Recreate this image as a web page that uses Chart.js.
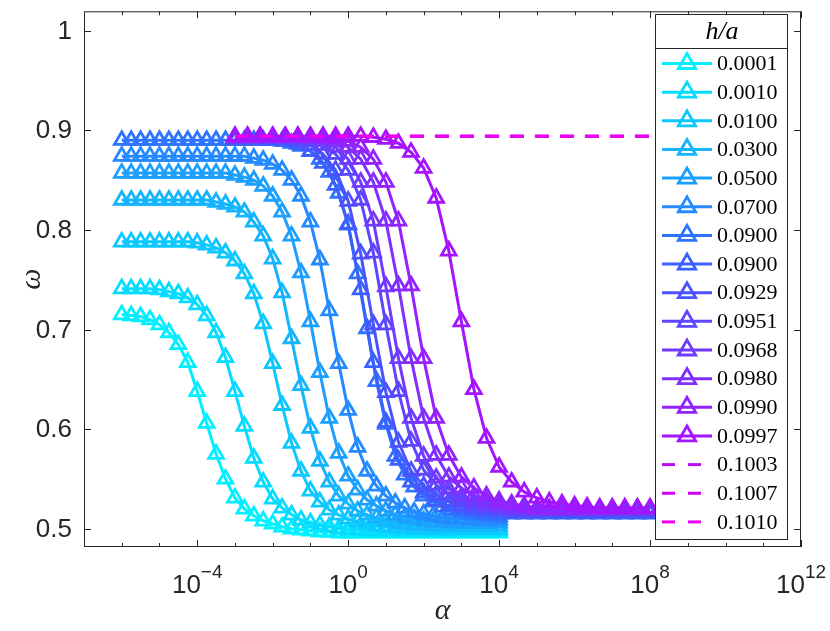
<!DOCTYPE html>
<html>
<head>
<meta charset="utf-8">
<script src="https://cdn.jsdelivr.net/npm/chart.js@4.4.1/dist/chart.umd.min.js"></script>
<style>
  html, body { margin: 0; padding: 0; background: #fff; }
  #wrap { width: 830px; height: 631px; position: relative; }
</style>
</head>
<body>
<div id="wrap"><canvas id="chart" width="830" height="631"></canvas></div>
<script>
// alpha grids
const alphaLow = [
  1e-6, 1.78e-6, 3.16e-6, 5.62e-6,
  1e-5, 1.78e-5, 3.16e-5, 5.62e-5,
  1e-4, 1.78e-4, 3.16e-4, 5.62e-4,
  1e-3, 1.78e-3, 3.16e-3, 5.62e-3,
  1e-2, 1.78e-2, 3.16e-2, 5.62e-2,
  0.1, 0.178, 0.316, 0.562,
  1, 1.78, 3.16, 5.62,
  10, 17.8, 31.6, 56.2,
  100, 178, 316, 562,
  1000, 1780, 3160, 5620,
  10000
];
const alphaHigh = [
  1e-3, 2.15e-3, 4.64e-3,
  1e-2, 2.15e-2, 4.64e-2,
  0.1, 0.215, 0.464,
  1, 2.15, 4.64,
  10, 21.5, 46.4,
  100, 215, 464,
  1e3, 2.15e3, 4.64e3,
  1e4, 2.15e4, 4.64e4,
  1e5, 2.15e5, 4.64e5,
  1e6, 2.15e6, 4.64e6,
  1e7, 2.15e7, 4.64e7,
  1e8
];
const alphaDash = [1e-3, 1e8];

// omega values, one array per h/a
const w0001 = [
  0.715, 0.714, 0.713, 0.710, 0.705, 0.697, 0.685, 0.667, 0.638, 0.606,
  0.575, 0.550, 0.531, 0.520, 0.513, 0.508, 0.505, 0.502, 0.500, 0.499,
  0.498, 0.497, 0.497, 0.496, 0.496, 0.496, 0.496, 0.496, 0.496, 0.496,
  0.496, 0.496, 0.496, 0.496, 0.496, 0.496, 0.496, 0.496, 0.496, 0.496,
  0.496
];
const w0010 = [
  0.741, 0.741, 0.741, 0.741, 0.740, 0.738, 0.736, 0.732, 0.725, 0.714,
  0.697, 0.672, 0.638, 0.603, 0.571, 0.547, 0.530, 0.521, 0.514, 0.509,
  0.506, 0.504, 0.502, 0.500, 0.499, 0.499, 0.498, 0.498, 0.498, 0.498,
  0.498, 0.498, 0.498, 0.498, 0.498, 0.498, 0.498, 0.498, 0.498, 0.498,
  0.498
];
const w0100 = [
  0.788, 0.788, 0.788, 0.788, 0.788, 0.788, 0.788, 0.788, 0.787, 0.785,
  0.782, 0.777, 0.769, 0.756, 0.736, 0.706, 0.666, 0.624, 0.586, 0.558,
  0.538, 0.527, 0.519, 0.514, 0.510, 0.507, 0.505, 0.503, 0.502, 0.501,
  0.501, 0.500, 0.500, 0.500, 0.500, 0.500, 0.500, 0.500, 0.500, 0.500,
  0.500
];
const w0300 = [
  0.830, 0.830, 0.830, 0.830, 0.830, 0.830, 0.830, 0.830, 0.830, 0.830,
  0.828, 0.826, 0.823, 0.818, 0.808, 0.794, 0.771, 0.737, 0.691, 0.644,
  0.601, 0.568, 0.547, 0.533, 0.525, 0.518, 0.514, 0.511, 0.508, 0.506,
  0.505, 0.504, 0.504, 0.503, 0.503, 0.503, 0.503, 0.503, 0.503, 0.503,
  0.503
];
const w0500 = [
  0.857, 0.857, 0.857, 0.857, 0.857, 0.857, 0.857, 0.857, 0.857, 0.857,
  0.857, 0.857, 0.855, 0.853, 0.850, 0.844, 0.834, 0.818, 0.794, 0.757,
  0.708, 0.657, 0.611, 0.576, 0.553, 0.539, 0.529, 0.523, 0.518, 0.514,
  0.512, 0.510, 0.508, 0.507, 0.507, 0.506, 0.506, 0.506, 0.506, 0.506,
  0.506
];
const w0700 = [
  0.874, 0.874, 0.874, 0.874, 0.874, 0.874, 0.874, 0.874, 0.874, 0.874,
  0.874, 0.874, 0.874, 0.874, 0.872, 0.870, 0.866, 0.860, 0.850, 0.834,
  0.808, 0.770, 0.719, 0.666, 0.619, 0.582, 0.558, 0.543, 0.533, 0.526,
  0.521, 0.517, 0.515, 0.513, 0.511, 0.510, 0.510, 0.509, 0.509, 0.509,
  0.509
];
const w0900a = [
  0.890, 0.890, 0.890, 0.890, 0.890, 0.890, 0.890, 0.890, 0.890, 0.890,
  0.890, 0.890, 0.890, 0.890, 0.890, 0.890, 0.890, 0.889, 0.887, 0.884,
  0.879, 0.871, 0.858, 0.837, 0.805, 0.756, 0.701, 0.648, 0.605, 0.573,
  0.554, 0.542, 0.533, 0.527, 0.522, 0.519, 0.517, 0.515, 0.514, 0.513,
  0.512
];
const w0900b = [
  0.890, 0.890, 0.890, 0.890, 0.889, 0.886, 0.879, 0.867, 0.845, 0.806,
  0.740, 0.667, 0.607, 0.569, 0.547, 0.536, 0.528, 0.523, 0.520, 0.518,
  0.516, 0.515, 0.515, 0.515, 0.515, 0.515, 0.515, 0.515, 0.515, 0.515,
  0.515, 0.515, 0.515, 0.515
];
const w0929 = [
  0.892, 0.892, 0.892, 0.892, 0.891, 0.889, 0.885, 0.876, 0.860, 0.829,
  0.776, 0.705, 0.637, 0.587, 0.558, 0.543, 0.534, 0.527, 0.523, 0.521,
  0.519, 0.518, 0.517, 0.517, 0.517, 0.517, 0.517, 0.517, 0.517, 0.517,
  0.517, 0.517, 0.517, 0.517
];
const w0951 = [
  0.892, 0.892, 0.892, 0.892, 0.892, 0.891, 0.889, 0.885, 0.876, 0.860,
  0.830, 0.777, 0.705, 0.638, 0.588, 0.559, 0.544, 0.535, 0.528, 0.524,
  0.522, 0.520, 0.519, 0.518, 0.518, 0.518, 0.518, 0.518, 0.518, 0.518,
  0.518, 0.518, 0.518, 0.518
];
const w0968 = [
  0.893, 0.893, 0.893, 0.893, 0.893, 0.893, 0.892, 0.889, 0.883, 0.871,
  0.848, 0.809, 0.743, 0.671, 0.611, 0.573, 0.551, 0.540, 0.532, 0.527,
  0.524, 0.522, 0.520, 0.519, 0.519, 0.519, 0.519, 0.519, 0.519, 0.519,
  0.519, 0.519, 0.519, 0.519
];
const w0980 = [
  0.893, 0.893, 0.893, 0.893, 0.893, 0.893, 0.893, 0.892, 0.889, 0.883,
  0.871, 0.848, 0.809, 0.744, 0.671, 0.611, 0.574, 0.552, 0.541, 0.533,
  0.528, 0.525, 0.523, 0.521, 0.520, 0.520, 0.520, 0.520, 0.520, 0.520,
  0.520, 0.520, 0.520, 0.520
];
const w0990 = [
  0.893, 0.893, 0.893, 0.893, 0.893, 0.893, 0.893, 0.893, 0.892, 0.889,
  0.883, 0.871, 0.848, 0.809, 0.744, 0.671, 0.611, 0.574, 0.552, 0.541,
  0.533, 0.528, 0.525, 0.523, 0.521, 0.520, 0.520, 0.520, 0.520, 0.520,
  0.520, 0.520, 0.520, 0.520
];
const w0997 = [
  0.894, 0.894, 0.894, 0.894, 0.894, 0.894, 0.894, 0.894, 0.894, 0.894,
  0.894, 0.893, 0.891, 0.887, 0.878, 0.862, 0.832, 0.779, 0.708, 0.640,
  0.591, 0.562, 0.547, 0.537, 0.531, 0.527, 0.525, 0.523, 0.522, 0.521,
  0.521, 0.521, 0.521, 0.521
];
const w1003 = [0.894, 0.894];
const w1007 = [0.894, 0.894];
const w1010 = [0.894, 0.894];

const labels = [
  "0.0001", "0.0010", "0.0100", "0.0300", "0.0500", "0.0700", "0.0900",
  "0.0900", "0.0929", "0.0951", "0.0968", "0.0980", "0.0990", "0.0997",
  "0.1003", "0.1007", "0.1010"
];
const colors = [
  "#00f0ff", "#05dcff", "#0cc8ff", "#14b4ff", "#1c9fff", "#248aff", "#2e74ff",
  "#3a60ff", "#4b52ff", "#5c46ff", "#703aff", "#812fff", "#9322ff", "#a414ff",
  "#b80cf5", "#d000f0", "#ee00f2"
];
const seriesX = [
  alphaLow, alphaLow, alphaLow, alphaLow, alphaLow, alphaLow, alphaLow,
  alphaHigh, alphaHigh, alphaHigh, alphaHigh, alphaHigh, alphaHigh, alphaHigh,
  alphaDash, alphaDash, alphaDash
];
const seriesY = [
  w0001, w0010, w0100, w0300, w0500, w0700, w0900a,
  w0900b, w0929, w0951, w0968, w0980, w0990, w0997,
  w1003, w1007, w1010
];
const dashed = [false, false, false, false, false, false, false,
  false, false, false, false, false, false, false, true, true, true];

const yTicks = [0.5, 0.6, 0.7, 0.8, 0.9, 1];
const yTickText = ["0.5", "0.6", "0.7", "0.8", "0.9", "1"];
const xMajor = [1e-4, 1, 1e4, 1e8, 1e12];
const xMajorExp = ["\u22124", "0", "4", "8", "12"];
const xMinor = [1e-6, 1e-5, 1e-3, 1e-2, 1e-1, 10, 100, 1e3, 1e5, 1e6, 1e7, 1e9, 1e10, 1e11];

const axisColor = "#262626";

const datasets = seriesY.map(function (vals, i) {
  return {
    label: labels[i],
    data: vals.map(function (v, k) { return { x: seriesX[i][k], y: v }; }),
    borderColor: colors[i],
    backgroundColor: colors[i],
    borderWidth: 3,
    borderDash: dashed[i] ? [14, 11] : [],
    pointStyle: "triangle",
    pointRadius: dashed[i] ? 0 : 8.5,
    pointBorderWidth: 2.8,
    pointBorderColor: colors[i],
    pointBackgroundColor: "rgba(255,255,255,0)",
    pointHoverRadius: 0,
    tension: 0,
    order: seriesY.length - i,
  };
});

function tri(ctx, x, y, r) {
  const a = Math.PI * 2 / 3;
  ctx.beginPath();
  ctx.moveTo(x + Math.sin(a) * r, y - Math.cos(a) * r);
  ctx.lineTo(x + Math.sin(2 * a) * r, y - Math.cos(2 * a) * r);
  ctx.lineTo(x, y - r);
  ctx.closePath();
  ctx.stroke();
}

const axesPlugin = {
  id: "axesPlugin",
  beforeDatasetsDraw(chart) {
    const { ctx, chartArea: a, scales } = chart;
    ctx.save();
    ctx.strokeStyle = axisColor;
    ctx.lineWidth = 1;
    ctx.strokeRect(a.left + 0.5, a.top + 0.5, a.right - a.left - 1, a.bottom - a.top - 1);
    ctx.beginPath();
    yTicks.forEach(function (v) {
      const y = Math.round(scales.y.getPixelForValue(v)) + 0.5;
      ctx.moveTo(a.left, y); ctx.lineTo(a.left + 7, y);
      ctx.moveTo(a.right, y); ctx.lineTo(a.right - 7, y);
    });
    xMajor.forEach(function (v) {
      const x = Math.round(scales.x.getPixelForValue(v)) + 0.5;
      ctx.moveTo(x, a.bottom); ctx.lineTo(x, a.bottom - 7);
      ctx.moveTo(x, a.top); ctx.lineTo(x, a.top + 7);
    });
    xMinor.forEach(function (v) {
      const x = Math.round(scales.x.getPixelForValue(v)) + 0.5;
      ctx.moveTo(x, a.bottom); ctx.lineTo(x, a.bottom - 4);
      ctx.moveTo(x, a.top); ctx.lineTo(x, a.top + 4);
    });
    ctx.stroke();
    ctx.restore();
  },
  afterDraw(chart) {
    const { ctx, chartArea: a, scales } = chart;
    ctx.save();
    ctx.fillStyle = axisColor;
    // y tick labels
    ctx.font = '26px "Liberation Sans", Arial, sans-serif';
    ctx.textAlign = "right";
    ctx.textBaseline = "middle";
    yTicks.forEach(function (v, i) {
      ctx.fillText(yTickText[i], a.left - 12, scales.y.getPixelForValue(v) + 1);
    });
    // x tick labels 10^n
    ctx.textAlign = "left";
    ctx.textBaseline = "alphabetic";
    xMajor.forEach(function (v, i) {
      const x = scales.x.getPixelForValue(v);
      ctx.font = '26px "Liberation Sans", Arial, sans-serif';
      const wb = ctx.measureText("10").width;
      ctx.font = '19px "Liberation Sans", Arial, sans-serif';
      const we = ctx.measureText(xMajorExp[i]).width;
      const x0 = x - (wb + we) / 2;
      ctx.font = '26px "Liberation Sans", Arial, sans-serif';
      ctx.fillText("10", x0, a.bottom + 46);
      ctx.font = '19px "Liberation Sans", Arial, sans-serif';
      ctx.fillText(xMajorExp[i], x0 + wb, a.bottom + 31);
    });
    // axis titles
    ctx.textAlign = "center";
    ctx.textBaseline = "middle";
    ctx.font = 'italic 30px "Liberation Serif", serif';
    ctx.fillText("\u03b1", (a.left + a.right) / 2, a.bottom + 64);
    ctx.save();
    ctx.translate(32, (a.top + a.bottom) / 2);
    ctx.rotate(-Math.PI / 2);
    ctx.fillText("\u03c9", 0, 0);
    ctx.restore();

    // legend box
    const lx = 655, ly = 14, lw = 132, lh = 525, titleH = 34, rowH = 28.65;
    ctx.fillStyle = "#ffffff";
    ctx.fillRect(lx, ly, lw, lh);
    ctx.strokeStyle = axisColor;
    ctx.lineWidth = 1;
    ctx.strokeRect(lx + 0.5, ly + 0.5, lw, lh);
    ctx.beginPath();
    ctx.moveTo(lx, ly + titleH + 0.5);
    ctx.lineTo(lx + lw, ly + titleH + 0.5);
    ctx.stroke();
    ctx.fillStyle = "#000";
    ctx.font = 'italic 26px "Liberation Serif", serif';
    ctx.textAlign = "center";
    ctx.fillText("h/a", lx + lw / 2 + 1, ly + titleH / 2 + 1);
    ctx.textAlign = "left";
    ctx.font = '22px "Liberation Serif", serif';
    labels.forEach(function (lab, i) {
      const cy = ly + titleH + 15.5 + rowH * i;
      ctx.strokeStyle = colors[i];
      ctx.lineWidth = 3;
      ctx.setLineDash(dashed[i] ? [13, 13] : []);
      ctx.beginPath();
      ctx.moveTo(lx + 7, cy);
      ctx.lineTo(lx + 57, cy);
      ctx.stroke();
      ctx.setLineDash([]);
      if (!dashed[i]) {
        ctx.lineWidth = 2.8;
        tri(ctx, lx + 32, cy, 10);
      }
      ctx.fillStyle = "#000";
      ctx.fillText(lab, lx + 62, cy + 1);
    });
    ctx.restore();
  },
};

new Chart(document.getElementById("chart"), {
  type: "line",
  data: { datasets: datasets },
  options: {
    responsive: false,
    animation: false,
    devicePixelRatio: 1,
    layout: { padding: { left: 0, right: 29, top: 1, bottom: 0 } },
    plugins: { legend: { display: false }, tooltip: { enabled: false } },
    scales: {
      x: {
        type: "logarithmic",
        min: 1e-7,
        max: 1e12,
        ticks: { display: false },
        grid: { display: false },
        border: { display: false },
        afterFit: function (s) { s.height = 84; },
      },
      y: {
        type: "linear",
        min: 0.4817,
        max: 1.0194,
        ticks: { display: false },
        grid: { display: false },
        border: { display: false },
        afterFit: function (s) { s.width = 84; },
      },
    },
  },
  plugins: [axesPlugin],
});
</script>
</body>
</html>
